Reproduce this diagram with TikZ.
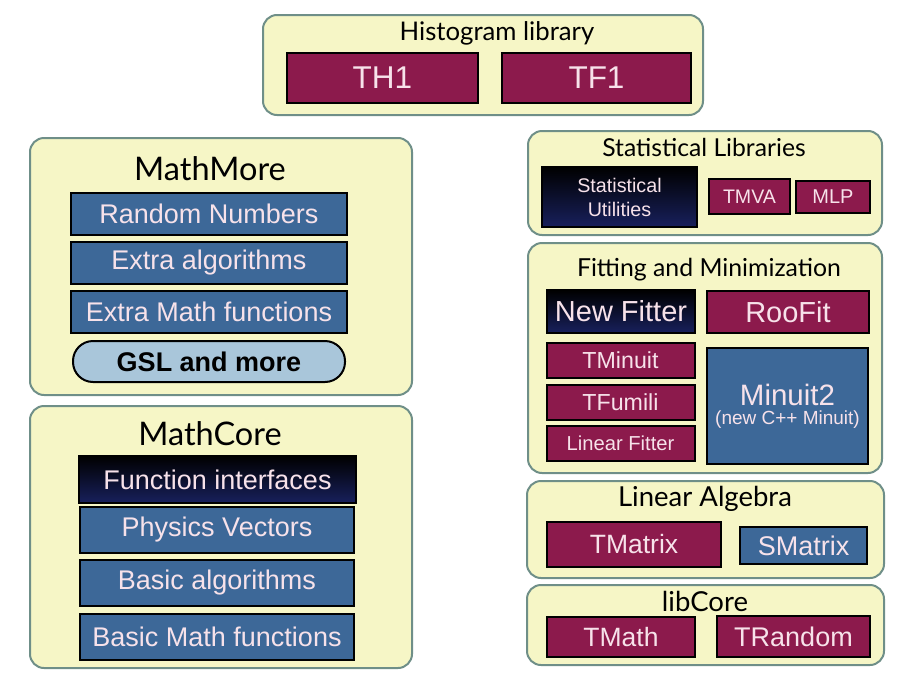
\documentclass[tikz,border=0pt]{standalone}
\usepackage{fontspec}
\setmainfont{Liberation Sans}
\newfontfamily\titlefont{Lato}
\usetikzlibrary{positioning}
\definecolor{groupfill}{HTML}{F6F6C6}
\definecolor{groupline}{HTML}{6F8F88}
\definecolor{rootred}{HTML}{8C1A4C}
\definecolor{mathblue}{HTML}{3D6898}
\definecolor{gslblue}{HTML}{A9C6DA}
\definecolor{boxtext}{HTML}{F7E2EA}
\definecolor{nightblue}{HTML}{18205C}
\tikzset{every picture/.style={x=1pt,y=-1pt},
group/.style={draw=groupline,fill=groupfill,line width=2pt,rounded corners=14pt},
grouptitle/.style={font=\titlefont\fontsize{#1}{#1}\selectfont},
lib/.style={draw=black,line width=2pt,text=boxtext,inner sep=0pt,align=center},
redlib/.style={lib,fill=rootred},
bluelib/.style={lib,fill=mathblue},
darklib/.style={lib,top color=black,middle color=black,bottom color=nightblue},
fs/.style={font=\fontsize{#1}{#1}\selectfont}}

\begin{document}
\begin{tikzpicture}
\useasboundingbox (0,0) rectangle (903,683);
% containers
\node (histo) at (483,65) [group, minimum width=440, minimum height=100] {};
\node (mathmore) at (221,266.5) [group, minimum width=382, minimum height=257] {};
\node (mathcore) at (221,537) [group, minimum width=382, minimum height=262] {};
\node (stat) at (705,183) [group, minimum width=354, minimum height=104] {};
\node (fit) at (705,358) [group, minimum width=354, minimum height=230] {};
\node (linalg) at (705.5,529.5) [group, minimum width=357, minimum height=97] {};
\node (libcore) at (705.5,625) [group, minimum width=357, minimum height=80] {};
% titles
\node (histo-t) at (497,33) [grouptitle=25.7] {Histogram library};
\node (mathmore-t) at (210,169) [grouptitle=32.5] {MathMore};
\node (mathcore-t) at (210,434) [grouptitle=32.5] {MathCore};
\node (stat-t) at (704,147) [grouptitle=24.7] {Statistical Libraries};
\node (fit-t) at (709,270) [grouptitle=24.8] {Fitting and Minimization};
\node (linalg-t) at (705,499) [grouptitle=27.5] {Linear Algebra};
\node (libcore-t) at (705,601) [grouptitle=27.5] {libCore};
% histogram library
\foreach \n/\t/\x/\w in {th1/TH1/382.5/191, tf1/TF1/596.5/189} {
\node (\n) at (\x,78) [redlib, fs=31.5, minimum width=\w, minimum height=50] {\t};
}
% mathmore
\foreach \n/\t/\y in {rnd/Random Numbers/214, xalg/Extra algorithms/263, xfun/Extra Math functions/312} {
\node (\n) at (209,\y) [bluelib, fs=27, minimum width=276, minimum height=42] {\t};
}
\node (gsl) at (209,361.5) [draw=black, line width=2pt, fill=gslblue, rounded corners=20pt, minimum width=272, minimum height=41, font=\bfseries\fontsize{27}{27}\selectfont] {GSL and more};
% mathcore
\node (fint) at (217.5,479.5) [darklib, fs=27, minimum width=277, minimum height=47] {Function interfaces};
\foreach \n/\t/\y in {pvec/Physics Vectors/530, balg/Basic algorithms/583, bfun/Basic Math functions/636.5} {
\node (\n) at (217,\y) [bluelib, fs=27, minimum width=274, minimum height=46] {\t};
}
% statistical libraries
\node (sutil) at (619.5,197) [darklib, minimum width=155, minimum height=60, font=\fontsize{19.7}{20}\selectfont] {Statistical\\[4pt]Utilities};
\node (tmva) at (749.5,196.5) [redlib, fs=19.6, minimum width=81, minimum height=35] {TMVA};
\node (mlp) at (833,197) [redlib, fs=20, minimum width=74, minimum height=32] {MLP};
% fitting and minimization
\node (newfit) at (621,311.5) [darklib, fs=29, minimum width=148, minimum height=43] {New Fitter};
\node (roofit) at (788,312) [redlib, fs=29, minimum width=162, minimum height=42] {RooFit};
\foreach \n/\t/\y/\s in {tminuit/TMinuit/360/23.2, tfumili/TFumili/402.5/23.2, linfit/Linear Fitter/443.5/20.2} {
\node (\n) at (620.5,\y) [redlib, fs=\s, minimum width=148, minimum height=35] {\t};
}
\node (minuit2) at (787.5,406) [bluelib, minimum width=161, minimum height=116] {{\fontsize{29.5}{29.5}\selectfont Minuit2}\\[4pt]{\fontsize{19}{19}\selectfont (new C++ Minuit)}};
% linear algebra
\node (tmatrix) at (634,544.5) [redlib, fs=26.5, minimum width=174, minimum height=45] {TMatrix};
\node (smatrix) at (803.5,545.5) [bluelib, fs=27, minimum width=127, minimum height=37] {SMatrix};
% libcore
\node (tmath) at (621,637) [redlib, fs=26.5, minimum width=148, minimum height=40] {TMath};
\node (trandom) at (793.5,636.5) [redlib, fs=27, minimum width=153, minimum height=41] {TRandom};
\end{tikzpicture}
\end{document}
